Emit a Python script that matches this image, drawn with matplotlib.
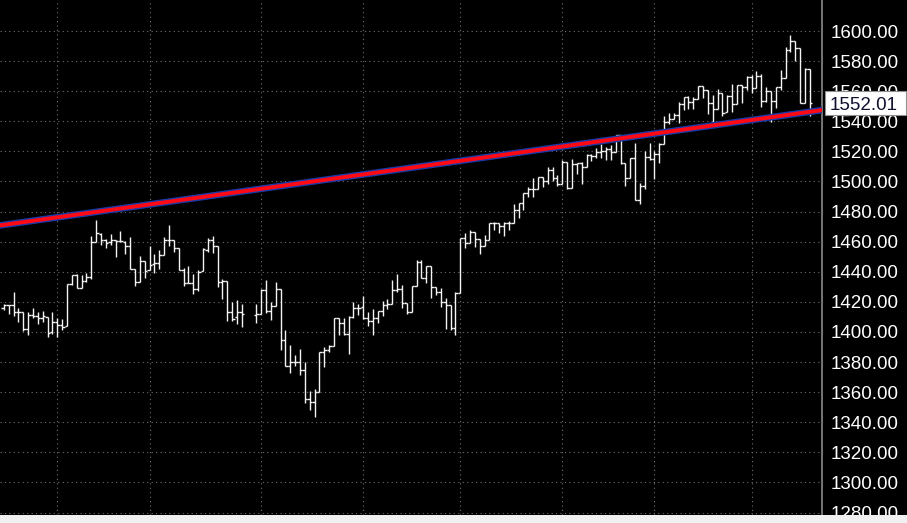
import numpy as np
import matplotlib.pyplot as plt
from matplotlib.patches import Rectangle
from matplotlib.transforms import blended_transform_factory

# daily bars, Aug 17 2012 .. Apr 17 2013
dates = [
    "2012-08-17", "2012-08-20", "2012-08-21", "2012-08-22", "2012-08-23", "2012-08-24",
    "2012-08-27", "2012-08-28", "2012-08-29", "2012-08-30", "2012-08-31",
    "2012-09-04", "2012-09-05", "2012-09-06", "2012-09-07", "2012-09-10", "2012-09-11",
    "2012-09-12", "2012-09-13", "2012-09-14", "2012-09-17", "2012-09-18", "2012-09-19",
    "2012-09-20", "2012-09-21", "2012-09-24", "2012-09-25", "2012-09-26", "2012-09-27",
    "2012-09-28",
    "2012-10-01", "2012-10-02", "2012-10-03", "2012-10-04", "2012-10-05", "2012-10-08",
    "2012-10-09", "2012-10-10", "2012-10-11", "2012-10-12", "2012-10-15", "2012-10-16",
    "2012-10-17", "2012-10-18", "2012-10-19", "2012-10-22", "2012-10-23", "2012-10-24",
    "2012-10-25", "2012-10-26", "2012-10-31",
    "2012-11-01", "2012-11-02", "2012-11-05", "2012-11-06", "2012-11-07", "2012-11-08",
    "2012-11-09", "2012-11-12", "2012-11-13", "2012-11-14", "2012-11-15", "2012-11-16",
    "2012-11-19", "2012-11-20", "2012-11-21", "2012-11-23", "2012-11-26", "2012-11-27",
    "2012-11-28", "2012-11-29", "2012-11-30",
    "2012-12-03", "2012-12-04", "2012-12-05", "2012-12-06", "2012-12-07", "2012-12-10",
    "2012-12-11", "2012-12-12", "2012-12-13", "2012-12-14", "2012-12-17", "2012-12-18",
    "2012-12-19", "2012-12-20", "2012-12-21", "2012-12-24", "2012-12-26", "2012-12-27",
    "2012-12-28", "2012-12-31",
    "2013-01-02", "2013-01-03", "2013-01-04", "2013-01-07", "2013-01-08", "2013-01-09",
    "2013-01-10", "2013-01-11", "2013-01-14", "2013-01-15", "2013-01-16", "2013-01-17",
    "2013-01-18", "2013-01-22", "2013-01-23", "2013-01-24", "2013-01-25", "2013-01-28",
    "2013-01-29", "2013-01-30", "2013-01-31",
    "2013-02-01", "2013-02-04", "2013-02-05", "2013-02-06", "2013-02-07", "2013-02-08",
    "2013-02-11", "2013-02-12", "2013-02-13", "2013-02-14", "2013-02-15", "2013-02-19",
    "2013-02-20", "2013-02-21", "2013-02-22", "2013-02-25", "2013-02-26", "2013-02-27",
    "2013-02-28",
    "2013-03-01", "2013-03-04", "2013-03-05", "2013-03-06", "2013-03-07", "2013-03-08",
    "2013-03-11", "2013-03-12", "2013-03-13", "2013-03-14", "2013-03-15", "2013-03-18",
    "2013-03-19", "2013-03-20", "2013-03-21", "2013-03-22", "2013-03-25", "2013-03-26",
    "2013-03-27", "2013-03-28",
    "2013-04-01", "2013-04-02", "2013-04-03", "2013-04-04", "2013-04-05", "2013-04-08",
    "2013-04-09", "2013-04-10", "2013-04-11", "2013-04-12", "2013-04-15", "2013-04-16",
    "2013-04-17",
]

opens = [
    1415.8, 1417.9, 1418.1, 1413.1, 1413.5, 1402.0, 1411.1, 1410.4, 1409.3, 1410.1, 1400.1,
    1406.5, 1404.9, 1403.7, 1432.1, 1437.9, 1429.1, 1433.6, 1436.6, 1460.1, 1465.4, 1461.2,
    1459.5, 1461.1, 1460.3, 1459.8, 1456.9, 1441.6, 1433.4, 1447.1,
    1440.9, 1445.0, 1446.1, 1451.1, 1461.4, 1460.9, 1455.9, 1441.5, 1432.8, 1432.8, 1428.8,
    1440.3, 1454.2, 1460.9, 1457.3, 1433.2, 1433.7, 1413.2, 1409.7, 1413.0, 1411.0,
    1412.2, 1427.6, 1414.0, 1417.3, 1428.3, 1394.5, 1377.6, 1379.9, 1380.0, 1374.6, 1355.4,
    1353.4, 1359.9, 1386.8, 1387.8, 1391.0, 1409.2, 1406.3, 1398.8, 1410.0, 1416.0,
    1416.3, 1409.5, 1407.1, 1409.4, 1414.0, 1418.1, 1418.6, 1427.8, 1428.5, 1419.5, 1413.5,
    1430.5, 1446.8, 1435.8, 1443.7, 1430.2, 1426.7, 1419.8, 1418.1, 1402.4,
    1426.2, 1462.4, 1459.4, 1466.5, 1461.9, 1457.2, 1461.0, 1472.1, 1472.1, 1470.7, 1472.3,
    1472.6, 1481.0, 1486.0, 1492.6, 1494.8, 1494.8, 1503.0, 1500.2, 1507.8, 1502.0,
    1498.1, 1513.2, 1495.7, 1511.3, 1512.1, 1509.4, 1517.9, 1517.0, 1519.4, 1520.3, 1521.4,
    1519.8, 1530.9, 1512.0, 1502.4, 1515.6, 1487.9, 1496.9, 1516.0,
    1514.7, 1518.2, 1525.2, 1539.8, 1541.5, 1544.3, 1551.2, 1556.2, 1552.5, 1554.5, 1563.2,
    1560.7, 1552.1, 1548.3, 1558.7, 1545.9, 1556.9, 1551.7, 1563.8, 1562.9,
    1569.2, 1562.2, 1570.3, 1553.7, 1560.0, 1553.3, 1563.1, 1568.6, 1587.7, 1593.3, 1588.8,
    1552.4, 1574.6,
]

highs = [
    1418.7, 1418.1, 1426.7, 1416.1, 1413.5, 1413.5, 1416.2, 1413.6, 1414.0, 1410.1, 1413.1,
    1409.3, 1408.8, 1432.1, 1437.9, 1438.7, 1437.8, 1439.2, 1463.8, 1474.5, 1465.6, 1461.5,
    1465.2, 1461.2, 1467.1, 1460.7, 1463.2, 1441.6, 1450.2, 1447.1,
    1457.1, 1451.5, 1454.3, 1463.1, 1471.0, 1460.9, 1455.9, 1442.5, 1443.9, 1438.4, 1441.3,
    1455.5, 1462.2, 1464.0, 1457.3, 1435.5, 1433.7, 1420.0, 1421.1, 1418.8, 1418.8,
    1428.4, 1434.3, 1419.9, 1433.4, 1428.3, 1401.2, 1391.4, 1384.9, 1388.8, 1380.1, 1360.6,
    1362.0, 1386.9, 1389.8, 1391.3, 1409.2, 1409.2, 1409.0, 1410.3, 1419.7, 1418.9,
    1423.7, 1413.1, 1415.6, 1414.0, 1420.3, 1421.6, 1434.3, 1438.6, 1431.4, 1419.5, 1430.7,
    1448.0, 1447.8, 1443.7, 1443.7, 1430.2, 1429.4, 1422.8, 1418.1, 1426.7,
    1462.4, 1465.5, 1467.9, 1466.5, 1461.9, 1464.7, 1472.3, 1472.8, 1472.1, 1473.3, 1474.0,
    1485.2, 1486.0, 1492.6, 1496.1, 1502.3, 1503.3, 1503.2, 1509.4, 1509.9, 1504.2,
    1514.4, 1513.2, 1515.0, 1512.5, 1512.9, 1518.3, 1518.3, 1522.3, 1524.7, 1523.1, 1524.2,
    1530.9, 1530.9, 1512.0, 1515.6, 1525.8, 1499.0, 1520.1, 1525.3,
    1520.0, 1525.3, 1543.5, 1545.3, 1545.8, 1552.5, 1556.3, 1556.8, 1556.4, 1563.3, 1563.6,
    1560.7, 1557.3, 1561.6, 1558.7, 1557.7, 1564.9, 1564.0, 1564.1, 1570.3,
    1570.6, 1573.7, 1571.5, 1562.6, 1560.0, 1563.1, 1573.9, 1589.1, 1597.4, 1593.3, 1588.8,
    1575.4, 1574.6,
]

lows = [
    1414.7, 1412.1, 1410.9, 1406.8, 1400.5, 1398.0, 1409.1, 1405.6, 1406.6, 1397.0, 1399.0,
    1396.6, 1401.3, 1403.7, 1431.5, 1429.0, 1429.1, 1433.0, 1435.3, 1460.1, 1457.6, 1456.1,
    1457.9, 1450.0, 1459.5, 1452.1, 1441.6, 1430.5, 1433.3, 1435.6,
    1440.9, 1439.0, 1442.0, 1451.1, 1456.9, 1453.1, 1441.2, 1430.6, 1432.8, 1425.5, 1427.2,
    1440.3, 1453.4, 1452.6, 1429.9, 1422.1, 1407.6, 1407.1, 1405.1, 1403.3, 1406.0,
    1412.2, 1412.9, 1408.1, 1417.3, 1388.1, 1377.5, 1373.0, 1377.2, 1371.4, 1352.5, 1348.1,
    1343.4, 1359.9, 1377.0, 1386.4, 1391.0, 1397.7, 1398.0, 1385.4, 1409.0, 1411.6,
    1408.5, 1403.7, 1398.2, 1405.9, 1410.9, 1415.6, 1418.6, 1426.8, 1416.0, 1411.9, 1413.5,
    1430.5, 1435.8, 1432.8, 1422.6, 1424.7, 1416.4, 1401.8, 1401.6, 1398.1,
    1426.2, 1455.5, 1459.0, 1456.6, 1451.6, 1457.2, 1461.0, 1467.6, 1465.7, 1463.8, 1467.6,
    1472.6, 1475.8, 1481.2, 1489.9, 1489.5, 1494.8, 1496.3, 1498.1, 1500.1, 1496.8,
    1498.1, 1495.0, 1495.7, 1504.7, 1498.5, 1509.4, 1513.6, 1515.6, 1515.9, 1514.0, 1514.1,
    1519.8, 1511.4, 1497.3, 1502.4, 1487.9, 1485.0, 1494.9, 1514.5,
    1501.5, 1512.3, 1525.2, 1538.1, 1541.5, 1539.2, 1547.4, 1548.2, 1548.3, 1554.5, 1555.7,
    1545.1, 1538.6, 1548.3, 1543.6, 1545.9, 1546.2, 1551.7, 1551.9, 1561.1,
    1558.5, 1562.2, 1549.8, 1552.5, 1539.5, 1548.6, 1560.9, 1568.6, 1586.2, 1580.0, 1552.3,
    1552.4, 1543.7,
]

closes = [
    1418.2, 1418.1, 1413.2, 1413.5, 1402.1, 1411.1, 1410.4, 1409.3, 1410.5, 1399.5, 1406.6,
    1404.9, 1403.4, 1432.1, 1437.9, 1429.1, 1433.6, 1436.6, 1460.0, 1465.8, 1461.2, 1459.3,
    1461.1, 1460.3, 1460.2, 1456.9, 1441.6, 1433.3, 1447.2, 1440.7,
    1444.5, 1445.8, 1451.0, 1461.4, 1460.9, 1455.9, 1441.5, 1432.6, 1432.8, 1428.6, 1440.1,
    1454.9, 1460.9, 1457.3, 1433.2, 1433.8, 1413.1, 1408.8, 1413.0, 1411.9, 1412.2,
    1427.6, 1414.2, 1417.3, 1428.4, 1394.5, 1377.5, 1379.9, 1380.0, 1374.5, 1355.5, 1353.3,
    1359.9, 1386.9, 1387.8, 1391.0, 1409.2, 1406.3, 1398.9, 1409.9, 1416.0, 1416.2,
    1409.5, 1407.1, 1409.3, 1413.9, 1418.1, 1418.6, 1427.8, 1428.5, 1419.5, 1413.6, 1430.4,
    1446.8, 1435.8, 1443.7, 1430.2, 1426.7, 1419.8, 1418.1, 1402.4, 1426.2,
    1462.4, 1459.4, 1466.5, 1461.9, 1457.2, 1461.0, 1472.1, 1472.1, 1470.7, 1472.3, 1472.6,
    1480.9, 1486.0, 1492.6, 1494.8, 1494.8, 1503.0, 1500.2, 1507.8, 1502.0, 1498.1,
    1513.2, 1495.7, 1511.3, 1512.1, 1509.4, 1517.9, 1517.0, 1519.4, 1520.3, 1521.4, 1519.8,
    1530.9, 1512.0, 1502.4, 1515.6, 1487.9, 1496.9, 1516.0, 1514.7,
    1518.2, 1525.2, 1539.8, 1541.5, 1544.3, 1551.2, 1556.2, 1552.5, 1554.5, 1563.2, 1560.7,
    1552.1, 1548.3, 1558.7, 1545.8, 1556.9, 1551.7, 1563.8, 1562.9, 1569.2,
    1562.2, 1570.3, 1553.7, 1560.0, 1553.3, 1563.1, 1568.6, 1587.7, 1593.4, 1588.9, 1552.4,
    1574.6, 1552.01,
]

# two empty slots where the exchange was shut (Oct 29-30 2012)
gap_after = "2012-10-26"
gap_slots = 2

trend_dates = ["2012-08-17", "2013-04-17"]
trend_values = [1471.2, 1546.3]

price_ticks = list(range(1280, 1601, 20))
last_price = closes[-1]

W, H = 907, 523
plot_right = 822
plot_bottom = 515

fig = plt.figure(figsize=(W / 100, H / 100), dpi=100, facecolor="black")
ax = fig.add_axes([0, (H - plot_bottom) / H, plot_right / W, plot_bottom / H])
ax.set_facecolor("black")

x = np.arange(len(dates), dtype=float)
x[np.array(dates) > gap_after] += gap_slots
slot_of = dict(zip(dates, x))

bar_color = "#f4f4f4"
ax.vlines(x, lows, highs, colors=bar_color, lw=1.0, zorder=3)
ax.hlines(opens, x - 0.5, x, colors=bar_color, lw=1.0, zorder=3)
ax.hlines(closes, x, x + 0.5, colors=bar_color, lw=1.0, zorder=3)

# trend line: blue outline with red core
p0 = (slot_of[trend_dates[0]], trend_values[0])
p1 = (slot_of[trend_dates[1]], trend_values[1])
ax.axline(p0, p1, color="#1a3aa8", lw=4.8, zorder=4)
ax.axline(p0, p1, color="#ff0a14", lw=2.8, zorder=5)

ax.set_xlim(-0.8, 168.5)
ax.set_ylim(1278.4, 1620.6)

# vertical grid at the first bar of each month
month_starts = [slot_of[d] for i, d in enumerate(dates) if i > 0 and d[:7] != dates[i - 1][:7]]
ax.set_xticks(month_starts)
ax.set_yticks(price_ticks)
ax.grid(True, color="#6e6e6e", lw=0.8, linestyle=(0, (1, 3)))
ax.tick_params(axis="x", length=0, labelbottom=False)

ax.yaxis.tick_right()
ax.tick_params(axis="y", length=0, pad=6, labelsize=13.5, labelcolor="white")
ax.set_yticklabels([f"{p:.2f}" for p in price_ticks], family="Liberation Sans")

for side in ["left", "top", "bottom"]:
    ax.spines[side].set_visible(False)
ax.spines["right"].set_color("#8a8a8a")
ax.spines["right"].set_linewidth(1.2)

# last price marker
tr = blended_transform_factory(fig.transFigure, ax.transData)
ax.add_artist(Rectangle((825 / W, last_price - 8), 81 / W, 16, transform=tr,
                        facecolor="white", edgecolor="#909090", lw=0.8,
                        clip_on=False, zorder=6))
ax.text(830 / W, last_price, f"{last_price:.2f}", transform=tr, ha="left",
        va="center_baseline", fontsize=13.5, color="#101030", family="Liberation Sans",
        clip_on=False, zorder=7)

# light window frame at the bottom
fig.add_artist(Rectangle((0, 0), 1, (H - plot_bottom) / H, transform=fig.transFigure,
                         facecolor="#f0f0f0", edgecolor="none", zorder=10))

fig.savefig("out.png", dpi=100, facecolor="black")
